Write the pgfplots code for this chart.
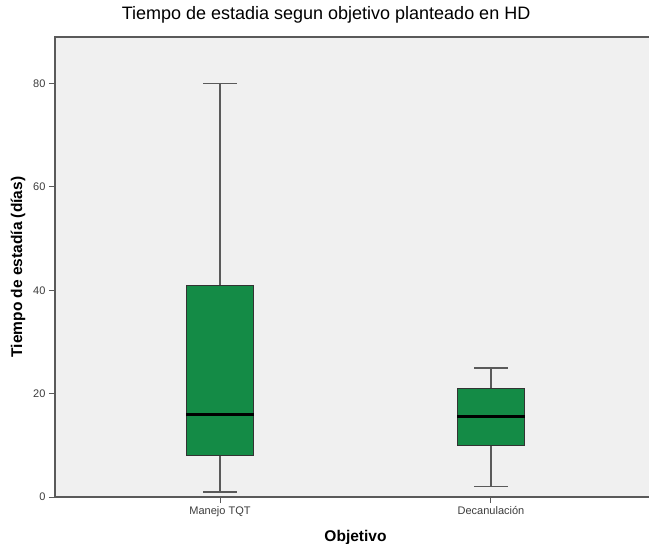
\documentclass[border=0pt]{standalone}
\usepackage{pgfplots}
\pgfplotsset{compat=1.18}
\usepgfplotslibrary{statistics}
\usetikzlibrary{calc}
\usepackage{fontspec}
\setmainfont{Liberation Sans}
\definecolor{boxgreen}{RGB}{20,139,70}
\definecolor{bggray}{RGB}{240,240,240}
\definecolor{axgray}{RGB}{90,90,90}
\definecolor{lblgray}{RGB}{60,60,60}

\begin{document}
\begin{tikzpicture}
\begin{axis}[
    name=ax,
    scale only axis,
    width=601bp, height=460bp,
    xmin=0.391, xmax=2.609,
    ymin=0, ymax=89,
    xtick={1,2},
    xticklabels={Manejo TQT, Decanulación},
    ytick={0,20,40,60,80},
    tick align=outside,
    xtick pos=left, ytick pos=left,
    major tick length=6bp,
    tick style={axgray, line width=1bp},
    axis line style={axgray, line width=1.3bp},
    axis background/.style={fill=bggray},
    /pgf/number format/assume math mode=true,
    ticklabel style={font=\fontsize{11bp}{13bp}\selectfont, text=lblgray},
    title={Tiempo de estadia segun objetivo planteado en HD},
    title style={font=\fontsize{18bp}{20bp}\selectfont, at={(axis description cs:0.451,1)}, anchor=base, yshift=11.3bp},
    xlabel={Objetivo},
    xlabel style={font=\bfseries\fontsize{15.5bp}{17bp}\selectfont, at={(axis description cs:0.5,0)}, anchor=base, yshift=-44bp},
    ylabel={Tiempo de estadía (días)},
    ylabel style={font=\bfseries\fontsize{15.5bp}{17bp}\selectfont, at={(axis description cs:-0.0549,0.5)}, anchor=base},
    boxplot/draw direction=y,
    boxplot/box extend=0.25,
    boxplot/whisker extend=0.125,
    boxplot/every median/.style={black, line width=3bp},
    boxplot/every whisker/.style={axgray, line width=1.5bp},
]
% Manejo TQT
\addplot[draw=black!80, line width=0.9bp, fill=boxgreen,
    boxplot prepared={
    draw position=1,
    lower whisker=1, lower quartile=8, median=16,
    upper quartile=41, upper whisker=80}] coordinates {};
% Decanulacion
\addplot[draw=black!80, line width=0.9bp, fill=boxgreen,
    boxplot prepared={
    draw position=2,
    lower whisker=2, lower quartile=10, median=15.5,
    upper quartile=21, upper whisker=25}] coordinates {};
\end{axis}
\pgfresetboundingbox
\useasboundingbox ($(ax.south west)+(-55bp,-47bp)$) rectangle ($(ax.south west)+(594bp,497bp)$);
\end{tikzpicture}
\end{document}
